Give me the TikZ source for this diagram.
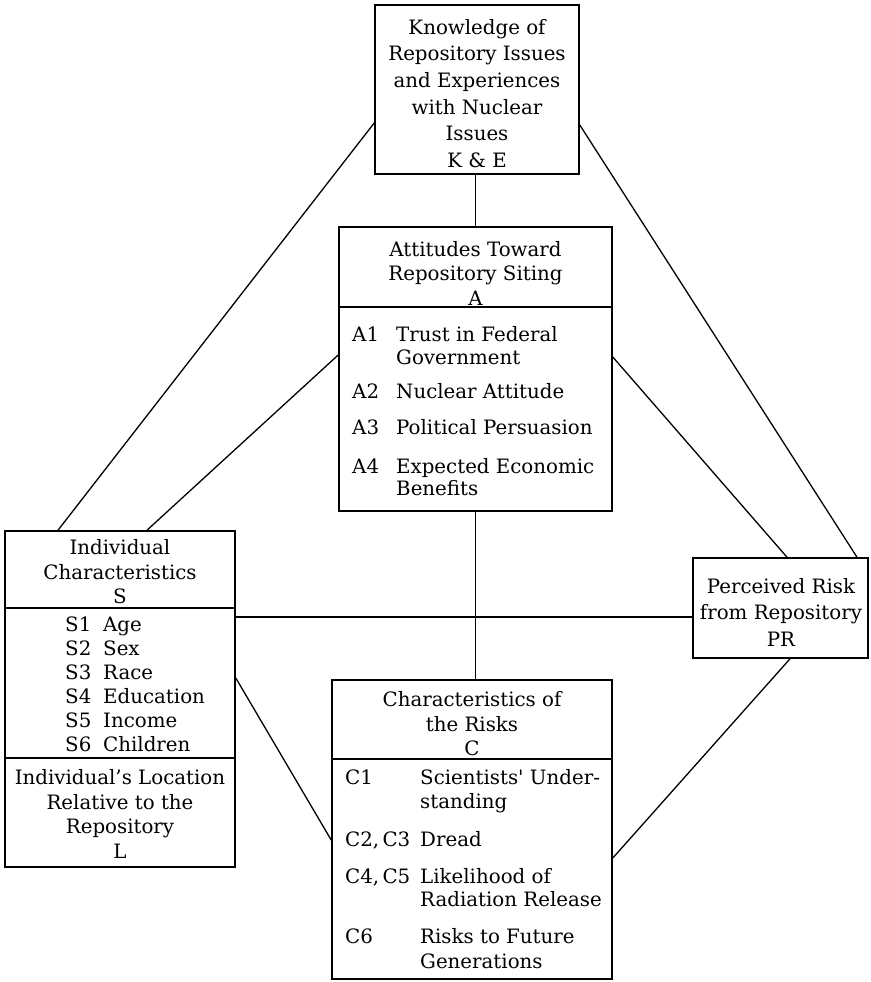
\documentclass[tikz,border=0pt]{standalone}
\usepackage{fontspec}
\setmainfont{DejaVu Serif}
\begin{document}
\begin{tikzpicture}[x=1pt,y=-1pt,
  box/.style={draw,line width=1.6pt,inner sep=0pt},
  divider/.style={line width=1.5pt},
  conn/.style={line width=1.3pt},
  txt/.style={inner sep=0pt,align=center,font=\fontsize{19.8}{24.5}\selectfont},
  item/.style={inner sep=0pt,anchor=base west,font=\fontsize{19.8}{23}\selectfont}]
\useasboundingbox (0,0) rectangle (870,982);
% boxes
\node[box,minimum width=204pt,minimum height=169pt] (ke) at (477,89.5) {};
\node[box,minimum width=273pt,minimum height=284pt] (a) at (475.5,369) {};
\node[box,minimum width=230pt,minimum height=336pt] (s) at (120,699) {};
\node[box,minimum width=175pt,minimum height=100pt] (pr) at (780.5,608) {};
\node[box,minimum width=280pt,minimum height=299pt] (c) at (472,829.5) {};
% dividers
\draw[divider] (a.west |- 0,307) -- (a.east |- 0,307);
\draw[divider] (s.west |- 0,608) -- (s.east |- 0,608);
\draw[divider] (s.west |- 0,758) -- (s.east |- 0,758);
\draw[divider] (c.west |- 0,759) -- (c.east |- 0,759);
% K&E text
\node[txt,font=\fontsize{19.8}{26.7}\selectfont] (ketxt) at (477,93.5) {Knowledge of\\Repository Issues\\and Experiences\\with Nuclear\\Issues\\K \& E};
% A
\node[txt] (ahead) at (475.5,273) {Attitudes Toward\\Repository Siting\\A};
\node[item] (a1) at (352,341) {A1};
\node[item] (a1t) at (396,341) {Trust in Federal};
\node[item] (a1u) at (396,364) {Government};
\node[item] (a2) at (352,398) {A2};
\node[item] (a2t) at (396,398) {Nuclear Attitude};
\node[item] (a3) at (352,434) {A3};
\node[item] (a3t) at (396,434) {Political Persuasion};
\node[item] (a4) at (352,473) {A4};
\node[item] (a4t) at (396,473) {Expected Economic};
\node[item] (a4u) at (396,495) {Benefits};
% S
\node[txt] (shead) at (120,572) {Individual\\Characteristics\\S};
\node[item] (s1) at (65,631) {S1};
\node[item] (s1t) at (103,631) {Age};
\node[item] (s2) at (65,655) {S2};
\node[item] (s2t) at (103,655) {Sex};
\node[item] (s3) at (65,679) {S3};
\node[item] (s3t) at (103,679) {Race};
\node[item] (s4) at (65,703) {S4};
\node[item] (s4t) at (103,703) {Education};
\node[item] (s5) at (65,727) {S5};
\node[item] (s5t) at (103,727) {Income};
\node[item] (s6) at (65,751) {S6};
\node[item] (s6t) at (103,751) {Children};
\node[txt] (ltxt) at (120,814) {Individual’s Location\\Relative to the\\Repository\\L};
% PR
\node[txt,font=\fontsize{19.8}{26.5}\selectfont] (prtxt) at (781,612) {Perceived Risk\\from Repository\\PR};
% C
\node[txt] (chead) at (472,724) {Characteristics of\\the Risks\\C};
\node[item] (c1) at (345,784) {C1};
\node[item] (c1t) at (420,784) {Scientists\textquotesingle\ Under-};
\node[item] (c1u) at (420,808) {standing};
\node[item] (c2) at (345,846) {C2,\,C3};
\node[item] (c2t) at (420,846) {Dread};
\node[item] (c4) at (345,883) {C4,\,C5};
\node[item] (c4t) at (420,883) {Likelihood of};
\node[item] (c4u) at (420,906) {Radiation Release};
\node[item] (c6) at (345,943) {C6};
\node[item] (c6t) at (420,943) {Risks to Future};
\node[item] (c6u) at (420,968) {Generations};
% connectors
\draw[conn] (a.north) -- (a.north |- ke.south);
\draw[conn] (a.south) -- (a.south |- c.north);
\draw[conn] (ke.west |- 0,123) -- (s.north -| 58,0);
\draw[conn] (a.west |- 0,355) -- (s.north -| 147,0);
\draw[conn] (ke.east |- 0,125) -- (pr.north -| 857,0);
\draw[conn] (a.east |- 0,357) -- (pr.north -| 787,0);
\draw[conn] (s.east |- 0,617) -- (pr.west |- 0,617);
\draw[conn] (s.east |- 0,678) -- (c.west |- 0,840);
\draw[conn] (pr.south -| 790,0) -- (c.east |- 0,858);
\end{tikzpicture}
\end{document}
